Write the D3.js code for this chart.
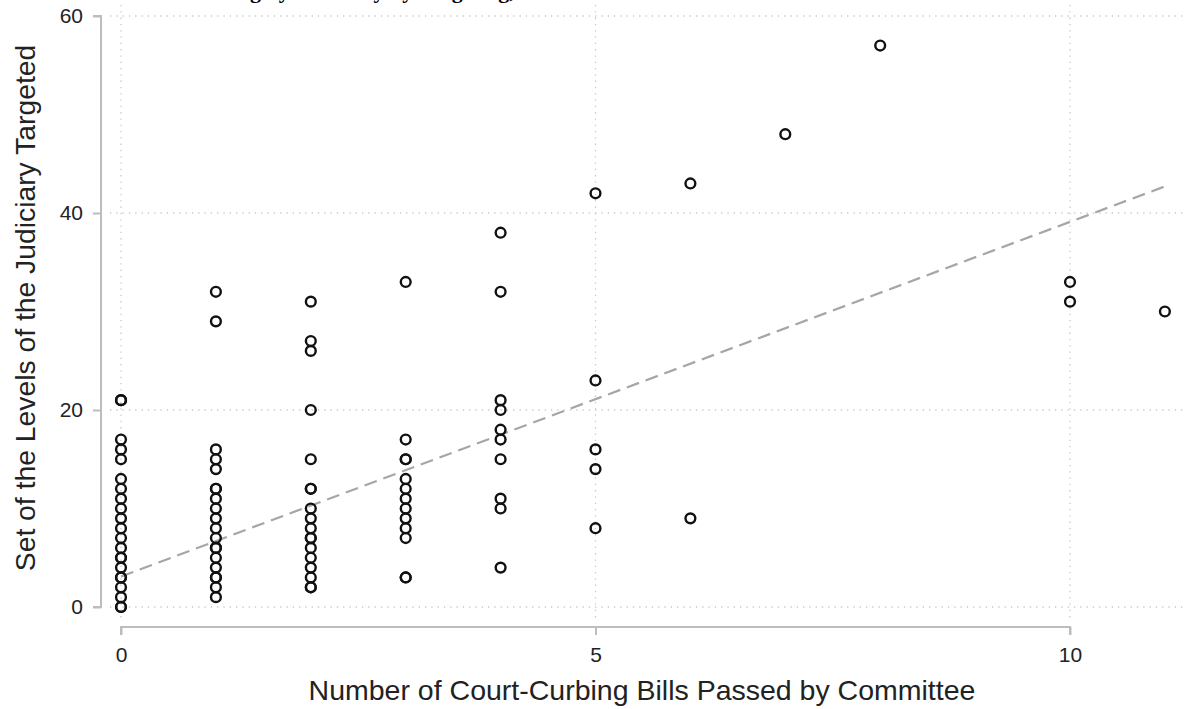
<!DOCTYPE html>
<html>
<head>
<meta charset="utf-8">
<script src="https://cdn.jsdelivr.net/npm/d3@7"></script>
<style>
  html, body { margin: 0; padding: 0; background: #fff; }
  svg { display: block; }
</style>
</head>
<body>
<svg id="chart" width="1187" height="709"></svg>
<script>
// ---- data ----
const bills0 = [0,0,1,2,3,4,5,6,7,8,9,10,11,12,13,15,16,17,21,21,5,3];
const bills1 = [1,2,3,4,5,6,7,8,9,10,11,12,14,15,16,29,32,3,6,12];
const bills2 = [2,3,4,5,6,7,8,9,10,12,15,20,26,27,31,12,2,7];
const bills3 = [3,7,8,9,10,11,12,13,15,17,33,3,15];
const bills4 = [4,10,11,15,17,18,20,21,32,38];
const bills5 = [8,14,16,23,42];
const bills6 = [9,43];
const bills7 = [48];
const bills8 = [57];
const bills10 = [31,33];
const bills11 = [30];
const groupX = [0,1,2,3,4,5,6,7,8,10,11];
const groupLevels = [bills0,bills1,bills2,bills3,bills4,bills5,bills6,bills7,bills8,bills10,bills11];

const xTicks = [0,5,10];
const yTicks = [0,20,40,60];
const fitX = [0,11];
const fitY = [3.1,42.7];

const xLabel = "Number of Court-Curbing Bills Passed by Committee";
const yLabel = "Set of the Levels of the Judiciary Targeted";
const topText = "Court-Curbing by Judiciary by Targeting,";

// ---- build ----
const points = [];
groupX.forEach((gx, i) => groupLevels[i].forEach(v => points.push({x: gx, y: v})));

const svg = d3.select("#chart");
const x = d3.scaleLinear().domain([0,10]).range([121,1070]);
const y = d3.scaleLinear().domain([0,60]).range([607,16]);

// partially visible caption at top (cut off in the reference too)
svg.append("text").attr("x", 118).attr("y", -2)
  .attr("font-family", "Liberation Serif").attr("font-weight", "bold")
  .attr("font-size", 22).attr("fill", "#000").text(topText);

// gridlines
const grid = svg.append("g").attr("stroke", "#c8c8c8").attr("stroke-width", 1.3)
  .attr("stroke-dasharray", "1.3,5");
grid.selectAll(".hg").data(yTicks).enter().append("line")
  .attr("x1", 110).attr("x2", 1183).attr("y1", d => y(d)).attr("y2", d => y(d));
grid.selectAll(".vg").data(xTicks).enter().append("line")
  .attr("y1", 5).attr("y2", 618).attr("x1", d => x(d)).attr("x2", d => x(d));

// y axis
const yAxis = d3.axisLeft(y).tickValues(yTicks).tickSize(8).tickPadding(10).tickFormat(d3.format("d"));
const gy = svg.append("g").attr("transform", "translate(101,0)").call(yAxis);
// x axis
const xAxis = d3.axisBottom(x).tickValues(xTicks).tickSize(8).tickPadding(12).tickFormat(d3.format("d"));
const gx = svg.append("g").attr("transform", "translate(0,627)").call(xAxis);
[gx, gy].forEach(g => {
  g.select(".domain").attr("stroke", "#bdbdbd").attr("stroke-width", 2);
  g.selectAll(".tick line").attr("stroke", "#bdbdbd").attr("stroke-width", 2);
  g.selectAll(".tick text").attr("font-family", "Liberation Sans").attr("font-size", 21).attr("fill", "#222");
});
gy.select(".domain").attr("d", `M-8,${y(60)}H0V${y(0)}H-8`);
gx.select(".domain").attr("d", `M${x(0)},8V0H${x(10)}V8`);

// fit line
svg.append("path")
  .datum(fitX.map((v, i) => [v, fitY[i]]))
  .attr("fill", "none").attr("stroke", "#a6a6a6").attr("stroke-width", 2.2)
  .attr("stroke-dasharray", "13,7")
  .attr("d", d3.line().x(d => x(d[0])).y(d => y(d[1])));

// points
svg.append("g").selectAll("circle").data(points).enter().append("circle")
  .attr("cx", d => x(d.x)).attr("cy", d => y(d.y)).attr("r", 4.9)
  .attr("fill", "none").attr("stroke", "#111").attr("stroke-width", 2.4);

// axis titles
svg.append("text").attr("x", 642).attr("y", 700).attr("text-anchor", "middle")
  .attr("font-family", "Liberation Sans").attr("font-size", 28.5).attr("fill", "#222").text(xLabel);
svg.append("text").attr("transform", `translate(35,308) rotate(-90)`)
  .attr("text-anchor", "middle")
  .attr("font-family", "Liberation Sans").attr("font-size", 28.3).attr("fill", "#222").text(yLabel);
</script>
</body>
</html>
